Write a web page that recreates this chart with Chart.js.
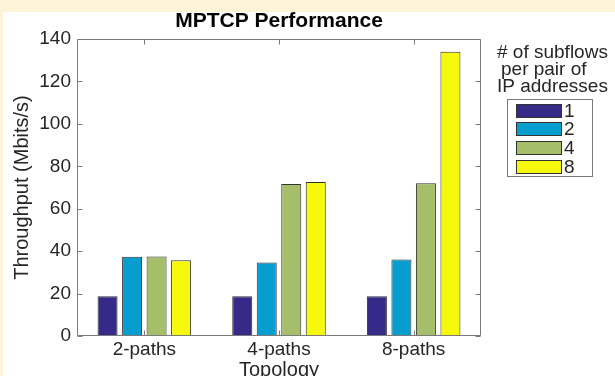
<!DOCTYPE html>
<html>
<head>
<meta charset="utf-8">
<script src="https://cdn.jsdelivr.net/npm/chart.js@4/dist/chart.umd.min.js"></script>
<style>
  html, body { margin: 0; padding: 0; background: #fdf3d9; }
  canvas { display: block; }
</style>
</head>
<body>
<canvas id="myChart" width="615" height="376"></canvas>
<script>
let categories = ["2-paths", "4-paths", "8-paths"];
let subflowLabels = ["1", "2", "4", "8"];
let flows1 = [18.7, 18.7, 18.7];
let flows2 = [37.4, 34.7, 36.1];
let flows4 = [37.5, 71.6, 72.0];
let flows8 = [35.7, 72.6, 134.0];
let yTicks = [0, 20, 40, 60, 80, 100, 120, 140];
let legendTitle = ["# of subflows", "per pair of", "IP addresses"];

let barColors = ["#352a87", "#079ecf", "#a5be6a", "#f7f90d"];
let fontFamily = "'Liberation Sans', Arial, Helvetica, sans-serif";
let textColor = "#262626";
let axisColor = "#7a7a7a";

// cream page edge + white figure, then the matlab style box with inward ticks
const framePlugin = {
  id: "frame",
  beforeDraw(chart) {
    const ctx = chart.ctx;
    ctx.save();
    ctx.fillStyle = "#fdf3d9";
    ctx.fillRect(0, 0, chart.width, chart.height);
    ctx.fillStyle = "#ffffff";
    ctx.fillRect(3, 12, chart.width - 3, chart.height - 12);
    ctx.restore();
  },
  afterDatasetsDraw(chart) {
    const ctx = chart.ctx;
    const a = chart.chartArea;
    const xs = chart.scales.x, ys = chart.scales.y;
    const l = Math.round(a.left) + 0.5, r = Math.round(a.right) - 0.5;
    const t = Math.round(a.top) + 0.5, b = Math.round(a.bottom) - 0.5;
    ctx.save();
    ctx.strokeStyle = axisColor;
    ctx.lineWidth = 1;
    ctx.beginPath();
    ctx.rect(l, t, r - l, b - t);
    yTicks.forEach(v => {
      const y = Math.round(ys.getPixelForValue(v)) + 0.5;
      ctx.moveTo(l, y); ctx.lineTo(l + 5, y);
      ctx.moveTo(r, y); ctx.lineTo(r - 5, y);
    });
    categories.forEach((c, i) => {
      const x = Math.round(xs.getPixelForTick(i)) + 0.5;
      ctx.moveTo(x, b); ctx.lineTo(x, b - 5);
      ctx.moveTo(x, t); ctx.lineTo(x, t + 5);
    });
    ctx.stroke();
    ctx.restore();
  },
  afterDraw(chart) {
    // legend on the right, with a three line title
    const ctx = chart.ctx;
    ctx.save();
    ctx.fillStyle = textColor;
    ctx.font = "19px " + fontFamily;
    ctx.textBaseline = "alphabetic";
    ctx.textAlign = "left";
    const titleX = [497, 501, 497];
    legendTitle.forEach((line, i) => {
      ctx.fillText(line, titleX[i], 58 + i * 17.2);
    });
    ctx.strokeStyle = axisColor;
    ctx.lineWidth = 1;
    ctx.strokeRect(507.5, 99.5, 85, 77);
    ctx.textBaseline = "middle";
    chart.data.datasets.forEach((ds, i) => {
      const y = 103.5 + i * 18.7;
      ctx.fillStyle = ds.backgroundColor;
      ctx.fillRect(516, Math.round(y), 46, 14);
      ctx.strokeStyle = "#333333";
      ctx.strokeRect(516.5, Math.round(y) + 0.5, 45, 13);
      ctx.fillStyle = textColor;
      ctx.fillText(ds.label, 564, Math.round(y) + 7.5);
    });
    ctx.restore();
  }
};

const seriesValues = [flows1, flows2, flows4, flows8];

const ctx = document.getElementById("myChart").getContext("2d");
const myChart = new Chart(ctx, {
  type: "bar",
  data: {
    labels: categories,
    datasets: subflowLabels.map((lab, i) => ({
      label: lab,
      data: seriesValues[i],
      backgroundColor: barColors[i],
      borderColor: "#333333",
      borderWidth: 1,
      categoryPercentage: 0.728,
      barPercentage: 0.816
    }))
  },
  options: {
    responsive: false,
    animation: false,
    layout: { padding: { left: 0, top: 0, right: 134, bottom: 0 } },
    plugins: {
      legend: { display: false },
      tooltip: { enabled: false },
      title: {
        display: true,
        text: "MPTCP Performance",
        fullSize: false,
        color: "#000000",
        font: { family: fontFamily, size: 21, weight: "bold", lineHeight: 1.2 },
        padding: { top: 9, bottom: 4.8 }
      }
    },
    scales: {
      x: {
        grid: { display: false, drawTicks: false },
        border: { display: false },
        ticks: {
          color: textColor,
          padding: 2,
          font: { family: fontFamily, size: 19 }
        },
        title: {
          display: true,
          text: "Topology",
          color: textColor,
          font: { family: fontFamily, size: 20, lineHeight: 1 },
          padding: { top: 0, bottom: -4 }
        },
        afterFit: s => { s.height = 40; }
      },
      y: {
        min: 0,
        max: 140,
        grid: { display: false, drawTicks: false },
        border: { display: false },
        afterBuildTicks: s => { s.ticks = yTicks.map(v => ({ value: v })); },
        ticks: {
          color: textColor,
          padding: 6,
          font: { family: fontFamily, size: 19 }
        },
        title: {
          display: true,
          text: "Throughput (Mbits/s)",
          color: textColor,
          font: { family: fontFamily, size: 20, lineHeight: 1.2 },
          padding: { top: 10, bottom: 0 }
        },
        afterFit: s => { s.width = 77; }
      }
    }
  },
  plugins: [framePlugin]
});
</script>
</body>
</html>
